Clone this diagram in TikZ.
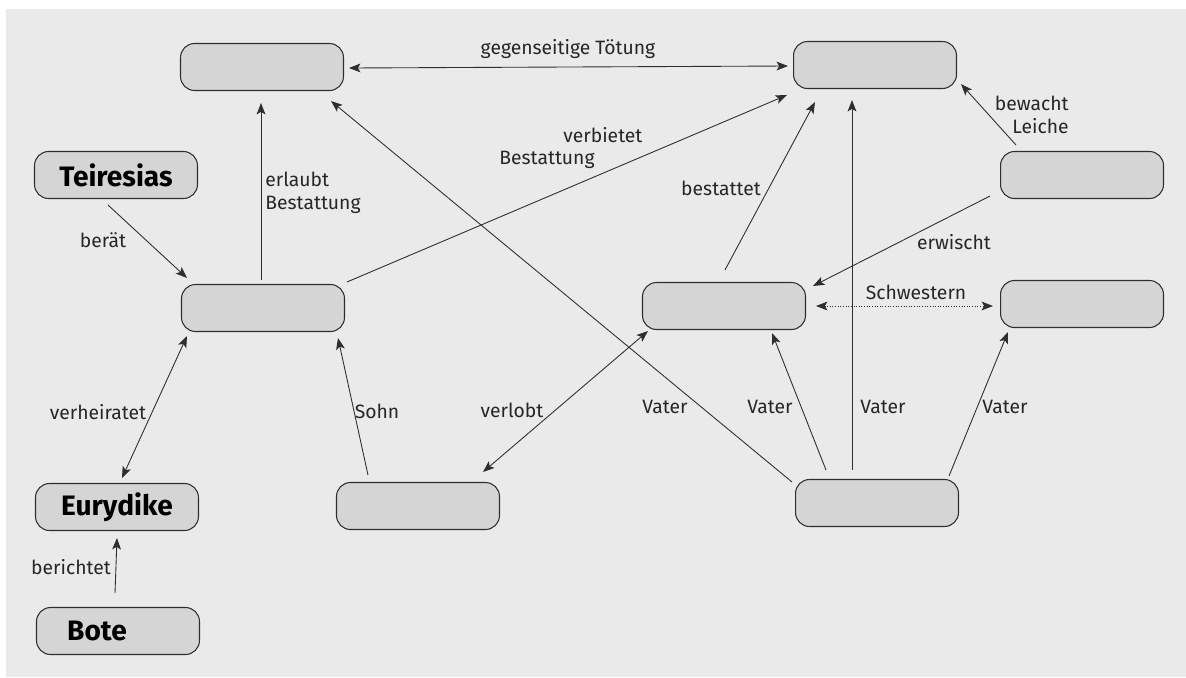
\documentclass[tikz,border=0pt]{standalone}
\usepackage{fontspec}
\setmainfont{Fira Sans}
\usepackage{tikz}
\usetikzlibrary{shapes,arrows.meta}
\definecolor{grund}{HTML}{EAEAEA}
\definecolor{feld}{HTML}{D5D5D5}
\definecolor{strich}{HTML}{2E2E2E}

\begin{document}
\begin{tikzpicture}[x=0.02cm, y=-0.02cm,
		figur/.style={draw=strich, line width=0.6pt, fill=feld, rounded corners=0.28cm,
			minimum width=3.26cm, minimum height=0.94cm, inner sep=0pt,
			font=\fontsize{16}{18}\selectfont\bfseries},
		pfeil/.style={-{Stealth[length=6.5pt,width=5pt,inset=1.5pt]}, draw=strich, line width=0.5pt},
		beide/.style={{Stealth[length=6.5pt,width=5pt,inset=1.5pt]}-{Stealth[length=6.5pt,width=5pt,inset=1.5pt]}, draw=strich, line width=0.5pt},
		txt/.style={font=\fontsize{11}{13}\selectfont, text=black!85, inner sep=0pt}]
		\useasboundingbox (0,0) rectangle (1186,677);
		\fill[white] (0,0) rectangle (1186,677);
		\fill[grund] (6,9) rectangle (1186,677);
		\node [figur] (eteokles) at (262,67) {};
		\node [figur] (polyneikes) at (875,65) {};
		\node [figur] (teiresias) at (116,175) {Teiresias};
		\node [figur] (kreon) at (263,308) {};
		\node [figur] (eurydike) at (117,507) {Eurydike};
		\node [figur] (bote) at (118,631) {\hspace*{-0.84cm}Bote};
		\node [figur] (haimon) at (418,506) {};
		\node [figur] (antigone) at (724,306) {};
		\node [figur] (waechter) at (1082,175) {};
		\node [figur] (ismene) at (1082,304) {};
		\node [figur] (oedipus) at (877,503) {};
		\draw [beide] ([shift={(5,1)}]eteokles.east) -- ([shift={(-5,1)}]polyneikes.west);
		\draw [pfeil] ([shift={(-2,-4)}]kreon.north) -- ([shift={(-1,12)}]eteokles.south);
		\draw [pfeil] ([shift={(-8,6)}]teiresias.south) -- ([shift={(6,-6)}]kreon.north west);
		\draw [pfeil] ([shift={(2,-2)}]kreon.north east) -- ([shift={(-6,6)}]polyneikes.south west);
		\draw [beide] ([shift={(5,-5)}]eurydike.north) -- ([shift={(6,4)}]kreon.south west);
		\draw [pfeil] ([shift={(32,-7)}]haimon.north west) -- ([shift={(-7,6)}]kreon.south east);
		\draw [pfeil] ([shift={(-3,-14)}]bote.north) -- ([shift={(0,7)}]eurydike.south);
		\draw [beide] ([shift={(6,1)}]antigone.south west) -- ([shift={(-17,-10)}]haimon.north east);
		\draw [pfeil] ([shift={(-3,3)}]oedipus.north west) -- ([shift={(-13,10)}]eteokles.south east);
		\draw [pfeil] ([shift={(-51,-9)}]oedipus.north) -- ([shift={(48,3)}]antigone.south);
		\draw [pfeil] ([shift={(-25,-9)}]oedipus.north) -- ([shift={(-23,11)}]polyneikes.south);
		\draw [pfeil] ([shift={(-10,-3)}]oedipus.north east) -- ([shift={(8,4)}]ismene.south west);
		\draw [pfeil] ([shift={(1,-12)}]antigone.north) -- ([shift={(22,13)}]polyneikes.south west);
		\draw [pfeil] ([shift={(-10,-3)}]waechter.south west) -- ([shift={(7,4)}]antigone.north east);
		\draw [pfeil] ([shift={(16,-6)}]waechter.north west) -- ([shift={(4,-5)}]polyneikes.south east);
		\draw [beide, densely dotted] ([shift={(10,0)}]antigone.east) -- ([shift={(-7,2)}]ismene.west);
		\node [txt] (l-toetung) at (568,49) {gegenseitige Tötung};
		\node [txt, anchor=west, align=left] (l-erlaubt) at (265,193) {erlaubt\\Bestattung};
		\node [txt] (l-beraet) at (103,240) {berät};
		\node [txt, anchor=west, align=left] (l-verbietet) at (499,148) {\hspace*{1.28cm}verbietet\\Bestattung};
		\node [txt] (l-verheiratet) at (98,412) {verheiratet};
		\node [txt] (l-sohn) at (377,411) {Sohn};
		\node [txt] (l-berichtet) at (71,567) {berichtet};
		\node [txt] (l-verlobt) at (512,410) {verlobt};
		\node [txt] (l-vater1) at (665,407) {Vater};
		\node [txt] (l-vater2) at (770,407) {Vater};
		\node [txt] (l-vater3) at (883,407) {Vater};
		\node [txt] (l-vater4) at (1005,407) {Vater};
		\node [txt] (l-bestattet) at (721,188) {bestattet};
		\node [txt, anchor=east, align=right] (l-bewacht) at (1069,115) {bewacht\\Leiche};
		\node [txt] (l-erwischt) at (954,242) {erwischt};
		\node [txt] (l-schwestern) at (916,292) {Schwestern};
\end{tikzpicture}
\end{document}
